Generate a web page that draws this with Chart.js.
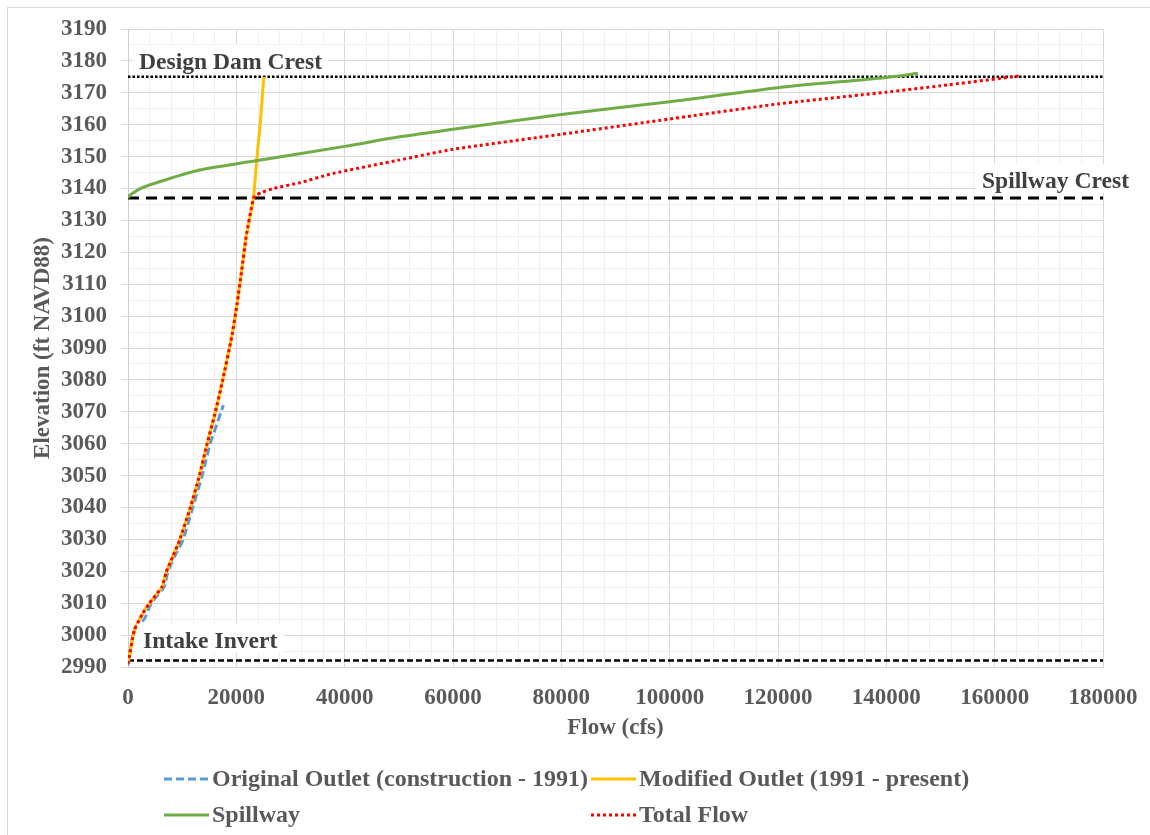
<!DOCTYPE html>
<html>
<head>
<meta charset="utf-8">
<script src="https://cdn.jsdelivr.net/npm/chart.js@4.4.1/dist/chart.umd.min.js"></script>
<style>
    html, body { margin: 0; padding: 0; background: #ffffff; }
    #wrap { position: relative; width: 1150px; height: 835px; }
</style>
</head>
<body>
<div id="wrap"><canvas id="myChart" width="1150" height="835"></canvas></div>
<script>
// values (flow in cfs, elevation in ft NAVD88)
const originalFlow = [0, 1200, 3000, 4300, 6700, 7330, 8700, 10100, 11950, 13690, 15160, 16400, 17160, 17620];
const originalElev = [2990.5, 3002, 3005, 3010, 3015.2, 3019.7, 3025, 3029.6, 3040, 3050, 3060, 3066, 3070, 3072.1];

const modifiedFlow = [0, 1180, 2720, 3830, 6300, 7040, 8260, 9490, 11520, 13190, 14610, 16140, 17490, 19150, 20150, 21000, 21810, 23160, 23760, 24400, 25060];
const modifiedElev = [2991, 3001.6, 3006.8, 3009.7, 3015.2, 3019.7, 3024.6, 3029.6, 3040, 3050, 3060, 3070, 3080, 3093.5, 3104, 3114.5, 3124.9, 3137, 3148.9, 3160, 3175];

const spillwayFlow = [0, 300, 870, 2100, 3950, 8000, 13200, 23350, 40000, 50150, 60000, 80000, 100000, 120000, 140000, 145850];
const spillwayElev = [3137, 3137.8, 3138.5, 3139.8, 3141.1, 3143.3, 3145.8, 3148.6, 3153.2, 3156.2, 3158.6, 3163.2, 3167.2, 3171.6, 3174.8, 3176.1];

const totalFlow = [0, 1180, 2720, 3830, 6300, 7040, 8260, 9490, 11520, 13190, 14610, 16140, 17490, 19150, 20150, 21000, 21810, 23160, 23770, 24600, 26800, 31700, 37800, 50000, 60000, 80000, 100000, 120000, 140000, 150000, 164700];
const totalElev = [2991, 3001.6, 3006.8, 3009.7, 3015.2, 3019.7, 3024.6, 3029.6, 3040, 3050, 3060, 3070, 3080, 3093.5, 3104, 3114.5, 3124.9, 3137, 3138, 3138.7, 3140, 3141.8, 3144.7, 3148.9, 3152.3, 3157, 3161.8, 3166.5, 3170.2, 3172.2, 3175.3];

const seriesNames = ['Original Outlet (construction - 1991)', 'Modified Outlet (1991 - present)', 'Spillway', 'Total Flow'];

const refLabels = ['Design Dam Crest', 'Spillway Crest', 'Intake Invert'];
const refElev   = [3175, 3137, 2992];
const flowRange = [0, 180000];
const elevRange = [2990, 3190];

const FONT      = '"Liberation Serif", "Times New Roman", serif';
const TEXT_GRAY = '#595959';
const GRID_MAJ  = '#d9d9d9';
const GRID_MIN  = '#f0f0f0';

function points(xs, ys)
{
    return xs.map((x, i) => ({ x: x, y: ys[i] }));
}

function refLine(elev)
{
    return flowRange.map(x => ({ x: x, y: elev }));
}

const curveStyles = [
    { color: '#5B9BD5', dash: [8, 4], tension: 0.2,  order: 4 },
    { color: '#FFC000', dash: [],     tension: 0.15, order: 3 },
    { color: '#70AD47', dash: [],     tension: 0.3,  order: 2 },
    { color: '#FF0000', dash: [3, 3], tension: 0.15, order: 1 }
];

const curveData = [
    points(originalFlow, originalElev),
    points(modifiedFlow, modifiedElev),
    points(spillwayFlow, spillwayElev),
    points(totalFlow, totalElev)
];

const datasets = curveData.map((d, i) => ({
    label: seriesNames[i],
    data: d,
    showLine: true,
    borderColor: curveStyles[i].color,
    backgroundColor: curveStyles[i].color,
    borderDash: curveStyles[i].dash,
    borderWidth: 3,
    tension: curveStyles[i].tension,
    pointRadius: 0,
    order: curveStyles[i].order
}));

const refStyles = [
    { dash: [2.5, 2], width: 2.5 },
    { dash: [11, 7],  width: 3 },
    { dash: [6, 3],   width: 2.5 }
];

refElev.forEach((e, i) =>
{
    datasets.push({
        label: refLabels[i],
        data: refLine(e),
        showLine: true,
        borderColor: '#000000',
        borderDash: refStyles[i].dash,
        borderWidth: refStyles[i].width,
        pointRadius: 0,
        order: 10
    });
});

// white-boxed labels sitting on the reference lines
const refLabelPlugin = {
    id: 'refLabels',
    afterDatasetsDraw(chart)
    {
        const ctx = chart.ctx;
        const xs  = chart.scales.x;
        const ys  = chart.scales.y;
        const where = [
            { x: xs.getPixelForValue(flowRange[0]) + 11, dy: -15, align: 'left' },
            { x: xs.right + 26,                          dy: -17, align: 'right' },
            { x: xs.getPixelForValue(flowRange[0]) + 15, dy: -20, align: 'left' }
        ];

        ctx.save();
        ctx.font = 'bold 23.6px ' + FONT;
        ctx.textBaseline = 'middle';
        refLabels.forEach((txt, i) =>
        {
            const w  = ctx.measureText(txt).width;
            const y  = ys.getPixelForValue(refElev[i]) + where[i].dy;
            const x0 = where[i].align === 'left' ? where[i].x : where[i].x - w;
            ctx.fillStyle = '#ffffff';
            ctx.fillRect(x0 - 6, y - 17, w + 12, 29);
            ctx.fillStyle = '#404040';
            ctx.textAlign = 'left';
            ctx.fillText(txt, x0, y + 1);
        });
        ctx.restore();
    }
};

// legend laid out on a two column grid, as in the original
const legendPlugin = {
    id: 'gridLegend',
    afterDraw(chart)
    {
        const ctx  = chart.ctx;
        const cols = [164, 591];
        const rows = [779, 815];

        ctx.save();
        ctx.font = 'bold 24px ' + FONT;
        ctx.textBaseline = 'middle';
        ctx.textAlign = 'left';
        for (let i = 0; i < seriesNames.length; i++)
        {
            const x = cols[i % 2];
            const y = rows[Math.floor(i / 2)];
            ctx.strokeStyle = curveStyles[i].color;
            ctx.lineWidth = 3;
            ctx.setLineDash(curveStyles[i].dash);
            ctx.beginPath();
            ctx.moveTo(x, y);
            ctx.lineTo(x + 45, y);
            ctx.stroke();
            ctx.setLineDash([]);
            ctx.fillStyle = TEXT_GRAY;
            ctx.fillText(seriesNames[i], x + 48, y + 1);
        }
        ctx.restore();
    }
};

const framePlugin = {
    id: 'frame',
    beforeDraw(chart)
    {
        const ctx = chart.ctx;
        ctx.save();
        ctx.fillStyle = '#ffffff';
        ctx.fillRect(0, 0, chart.width, chart.height);
        ctx.strokeStyle = '#d9d9d9';
        ctx.lineWidth = 1;
        ctx.strokeRect(7.5, 7.5, chart.width + 20, chart.height + 20);
        ctx.restore();
    }
};

const ctx = document.getElementById('myChart').getContext('2d');
const myChart = new Chart(ctx, {
    type: 'scatter',
    data: { datasets: datasets },
    plugins: [framePlugin, refLabelPlugin, legendPlugin],
    options: {
        responsive: false,
        animation: false,
        layout: { padding: { left: 25, top: 29, right: 47, bottom: 89 } },
        plugins: {
            legend: { display: false },
            tooltip: { enabled: false }
        },
        scales: {
            x: {
                type: 'linear',
                min: flowRange[0],
                max: flowRange[1],
                afterFit(scale)
                {
                    scale.height = 79;
                    scale.paddingLeft = 0;
                    scale.paddingRight = 0;
                },
                border: { display: true, color: '#d0d0d0', width: 1 },
                grid: {
                    drawTicks: false,
                    color: c => (c.tick && c.tick.value % 20000 === 0) ? GRID_MAJ : GRID_MIN,
                    lineWidth: 1
                },
                ticks: {
                    stepSize: 4000,
                    autoSkip: false,
                    maxRotation: 0,
                    padding: 17,
                    color: TEXT_GRAY,
                    font: { family: FONT, size: 23, weight: 'bold' },
                    callback: v => (v % 20000 === 0) ? String(v) : ''
                },
                title: {
                    display: true,
                    text: 'Flow (cfs)',
                    color: TEXT_GRAY,
                    font: { family: FONT, size: 23, weight: 'bold' }
                }
            },
            y: {
                type: 'linear',
                min: elevRange[0],
                max: elevRange[1],
                afterFit(scale)
                {
                    scale.width = 103;
                    scale.paddingTop = 0;
                    scale.paddingBottom = 0;
                },
                border: { display: true, color: '#d0d0d0', width: 1 },
                grid: {
                    tickLength: 7,
                    color: c => (c.tick && c.tick.value % 10 === 0) ? GRID_MAJ : GRID_MIN,
                    tickColor: c => (c.tick && c.tick.value % 10 === 0) ? GRID_MAJ : 'rgba(0,0,0,0)',
                    lineWidth: 1
                },
                ticks: {
                    stepSize: 5,
                    autoSkip: false,
                    padding: 14,
                    color: TEXT_GRAY,
                    font: { family: FONT, size: 23, weight: 'bold' },
                    callback: v => (v % 10 === 0) ? String(v) : ''
                },
                title: {
                    display: true,
                    text: 'Elevation (ft NAVD88)',
                    color: TEXT_GRAY,
                    font: { family: FONT, size: 23, weight: 'bold' }
                }
            }
        }
    }
});
</script>
</body>
</html>
